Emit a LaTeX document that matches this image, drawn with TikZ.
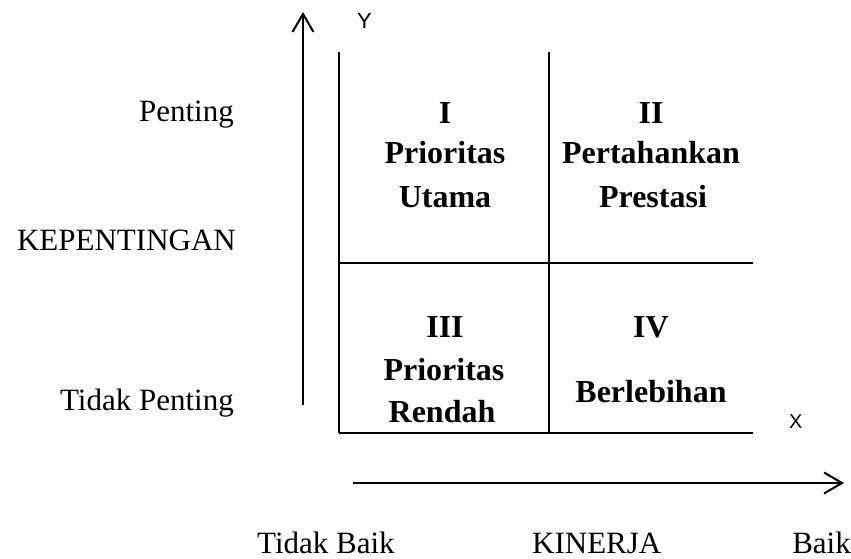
\documentclass[tikz,border=0pt]{standalone}
\usepackage{fontspec}
\setmainfont{Liberation Serif}
\newfontfamily\axisfont{Liberation Sans}
\usetikzlibrary{arrows.meta}
\begin{document}
\begin{tikzpicture}[x=1pt,y=-1pt,
  lbl/.style={inner sep=0pt,font=\fontsize{31}{37}\selectfont},
  quad/.style={inner sep=0pt,anchor=base,font=\fontsize{32}{38}\selectfont\bfseries},
  axlbl/.style={inner sep=0pt,anchor=base west,font=\axisfont\fontsize{22}{26}\selectfont},
  gridline/.style={line width=2pt},
  axis/.style={line width=2pt,-{Straight Barb[length=18pt,width=21pt,line width=2pt]}}]
\useasboundingbox (0,0) rectangle (851,559);
% grid
\coordinate (gtl) at (339,52);
\coordinate (gbl) at (339,433);
\coordinate (gtm) at (549,52);
\coordinate (gbm) at (549,433);
\coordinate (gml) at (339,263);
\coordinate (gmr) at (753,263);
\coordinate (gbr) at (753,433);
\draw[gridline] (gtl) -- (gbl);
\draw[gridline] (gtm) -- (gbm);
\draw[gridline] (gml) -- (gmr);
\draw[gridline] (gbl) -- (gbr);
% axes
\coordinate (ybot) at (303,405);
\coordinate (ytop) at (303,12);
\coordinate (xl) at (353,483);
\coordinate (xr) at (844,483);
\draw[axis] (ybot) -- (ytop);
\draw[axis] (xl) -- (xr);
\node[axlbl] (ylab) at (357,29) {Y};
\node[axlbl,font=\axisfont\fontsize{20}{24}\selectfont] (xlab) at (789,428) {X};
% left labels
\node[lbl,anchor=base east] (penting) at (234,122) {Penting};
\node[lbl,anchor=base east] (kep) at (236,250) {KEPENTINGAN};
\node[lbl,anchor=base east] (tpenting) at (234,410) {Tidak Penting};
% bottom labels
\node[lbl,anchor=base west] (tbaik) at (257,553) {Tidak Baik};
\node[lbl,anchor=base west] (kinerja) at (532,553) {KINERJA};
\node[lbl,anchor=base east] (baik) at (851,553) {Baik};
% quadrant I
\node[quad] (q1a) at (445,124) {I};
\node[quad] (q1b) at (445,163) {Prioritas};
\node[quad] (q1c) at (445,207) {Utama};
% quadrant II
\node[quad] (q2a) at (651,124) {II};
\node[quad] (q2b) at (651,163) {Pertahankan};
\node[quad] (q2c) at (653,207) {Prestasi};
% quadrant III
\node[quad] (q3a) at (445,337) {III};
\node[quad] (q3b) at (444,380) {Prioritas};
\node[quad] (q3c) at (442,422) {Rendah};
% quadrant IV
\node[quad] (q4a) at (651,337) {IV};
\node[quad] (q4b) at (651,402) {Berlebihan};
\end{tikzpicture}
\end{document}
